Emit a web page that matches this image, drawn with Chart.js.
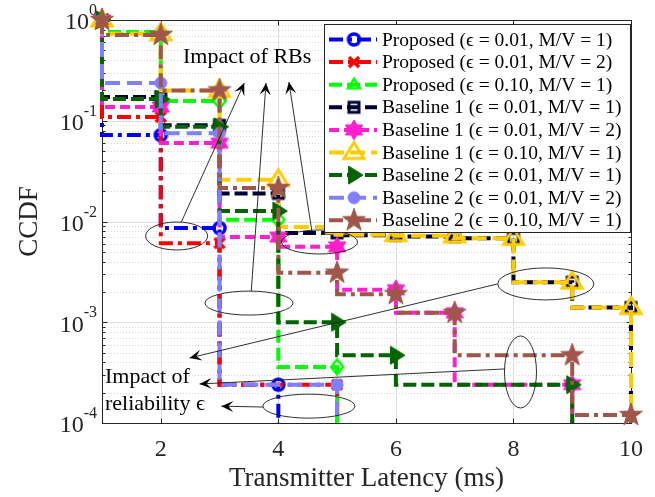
<!DOCTYPE html>
<html lang="en">
<head>
<meta charset="UTF-8">
<title>CCDF of transmitter latency</title>
<script src="https://cdn.jsdelivr.net/npm/chart.js@4"></script>
<style>
    html, body { margin: 0; padding: 0; background: #fff; }
    #wrap { width: 655px; height: 497px; }
</style>
</head>
<body>
<div id="wrap"><canvas id="ccdfChart" width="655" height="497"></canvas></div>
<script>
// latency axis (ms)
const latency = [1, 2, 3, 4, 5, 6, 7, 8, 9, 10];
const xTicks = [2, 4, 6, 8, 10];
const yDecades = [1, 0.1, 0.01, 0.001, 0.0001];

// CCDF read at each latency. null = no sample there, 0 = CCDF hit zero (line drops to the axis floor)
const proposedE001M1 = [1, 0.072, 0.0086, 2.4e-4, 0];
const proposedE001M2 = [1, 0.109, 0.0061, null, 2.4e-4, 0];
const proposedE010M1 = [1, 0.76, 0.157, 0.0104, 3.6e-4, 0];
const base1E001M1 = [1, 0.172, 0.09, 0.019, 0.0077, 0.0073, 0.0071, 0.0068, 0.0025, 0.0014, 0];
const base1E001M2 = [1, 0.137, 0.06, 0.0070, 0.0056, 0.0021, 0.00124, null, 2.4e-4, 0];
const base1E010M1 = [1, 0.73, 0.2, 0.026, 0.0088, 0.0074, 0.0072, 0.0068, 0.0025, 0.0014, 0];
const base2E001M1 = [1, 0.164, 0.087, 0.0127, 0.001, 4.7e-4, null, null, 2.4e-4, 0];
const base2E001M2 = [1, 0.237, 0.075, null, 2.4e-4, 0];
const base2E010M1 = [1, 0.71, 0.2, 0.0215, 0.0031, 0.0019, 0.00124, null, 4.7e-4, 1.2e-4, 0];

const seriesLabels = [
    'Proposed (\u03f5 = 0.01, M/V = 1)',
    'Proposed (\u03f5 = 0.01, M/V = 2)',
    'Proposed (\u03f5 = 0.10, M/V = 1)',
    'Baseline 1 (\u03f5 = 0.01, M/V = 1)',
    'Baseline 1 (\u03f5 = 0.01, M/V = 2)',
    'Baseline 1 (\u03f5 = 0.10, M/V = 1)',
    'Baseline 2 (\u03f5 = 0.01, M/V = 1)',
    'Baseline 2 (\u03f5 = 0.01, M/V = 2)',
    'Baseline 2 (\u03f5 = 0.10, M/V = 1)'
];
const seriesValues = [proposedE001M1, proposedE001M2, proposedE010M1, base1E001M1, base1E001M2,
    base1E010M1, base2E001M1, base2E001M2, base2E010M1];

const Y_MIN = 1e-4;
const FONT = '"Liberation Serif", "Times New Roman", serif';
const AXIS_COLOR = '#262626';

const DASH = [13, 5];
const DASHDOT = [14, 5, 4, 5];

// marker images (matlab style symbols)
function marker(shape, color, r, hollow, lw) {
    const s = Math.ceil(r * 2 + 6);
    const c = document.createElement('canvas');
    c.width = c.height = s;
    const g = c.getContext('2d');
    g.translate(s / 2, s / 2);
    g.strokeStyle = color;
    g.fillStyle = color;
    g.lineWidth = lw || 2.5;
    g.lineJoin = 'miter';
    g.beginPath();
    if (shape === 'circle') {
        g.arc(0, 0, r, 0, Math.PI * 2);
    } else if (shape === 'square') {
        g.rect(-r, -r, 2 * r, 2 * r);
    } else if (shape === 'diamond') {
        g.moveTo(0, -r); g.lineTo(r * 0.8, 0); g.lineTo(0, r); g.lineTo(-r * 0.8, 0); g.closePath();
    } else if (shape === 'up') {
        g.moveTo(0, -r); g.lineTo(r, r * 0.6); g.lineTo(-r, r * 0.6); g.closePath();
    } else if (shape === 'right') {
        g.moveTo(r, 0); g.lineTo(-r * 0.6, -r); g.lineTo(-r * 0.6, r); g.closePath();
    } else if (shape === 'cross') {
        g.moveTo(-r, -r); g.lineTo(r, r); g.moveTo(r, -r); g.lineTo(-r, r);
        g.stroke();
        return c;
    } else if (shape === 'star5' || shape === 'star6') {
        const n = shape === 'star5' ? 5 : 6;
        const inner = shape === 'star5' ? r * 0.4 : r * 0.58;
        for (let i = 0; i < n * 2; i++) {
            const rr = i % 2 === 0 ? r : inner;
            const a = -Math.PI / 2 + i * Math.PI / n;
            g.lineTo(rr * Math.cos(a), rr * Math.sin(a));
        }
        g.closePath();
    }
    if (!hollow) g.fill();
    g.stroke();
    return c;
}

const seriesStyle = [
    { color: '#0000ff', dash: DASHDOT, m: marker('circle', '#0000ff', 5.5, true, 3.5) },
    { color: '#ff0000', dash: DASHDOT, m: marker('cross', '#ff0000', 5, false, 3.5) },
    { color: '#00ff00', dash: DASH, m: marker('diamond', '#00ff00', 7.5, true, 2.5),
      legend: marker('up', '#00ff00', 6, true, 2.5) },
    { color: '#000033', dash: DASH, m: marker('square', '#000033', 5, true, 3) },
    { color: '#ff1fcf', dash: [10, 5], m: marker('star6', '#ff1fcf', 10, false, 1) },
    { color: '#ffcc00', dash: [15, 6], m: marker('up', '#ffcc00', 10, true, 3) },
    { color: '#006400', dash: DASH, m: marker('right', '#006400', 9, false, 1) },
    { color: '#8080ff', dash: [15, 7], m: marker('circle', '#8080ff', 6, false, 1) },
    { color: '#a0574a', dash: DASHDOT, m: marker('star5', '#a0574a', 12, false, 1) }
];

function toPoints(vals) {
    const pts = [];
    for (let i = 0; i < vals.length; i++) {
        const v = vals[i];
        if (v === null) continue;
        if (v === 0) {
            pts.push({ x: pts[pts.length - 1].x, y: Y_MIN, end: true });
            break;
        }
        pts.push({ x: latency[i], y: v });
    }
    return pts;
}

const datasets = seriesValues.map((vals, i) => ({
    label: seriesLabels[i],
    data: toPoints(vals),
    borderColor: seriesStyle[i].color,
    backgroundColor: seriesStyle[i].color,
    borderWidth: 4,
    borderDash: seriesStyle[i].dash,
    borderCapStyle: 'butt',
    stepped: 'after',
    pointStyle: seriesStyle[i].m,
    legendMarker: seriesStyle[i].legend || seriesStyle[i].m,
    pointRadius: c => (c.raw && c.raw.end ? 0 : 6),
    clip: false,
    order: -i
}));

// annotations, in data coordinates (latency, CCDF); radii in px
const ellipses = [
    [2.27, 0.00718, 31, 14],
    [3.50, 0.00155, 44, 12],
    [4.70, 0.00626, 38, 12],
    [8.55, 0.0024, 48, 16],
    [8.12, 3.21e-4, 16, 36],
    [4.52, 1.47e-4, 46, 12]
];
const arrows = [
    [2.35, 0.00989, 3.42, 0.237],
    [3.54, 0.00204, 3.79, 0.237],
    [4.57, 0.00805, 4.18, 0.2425],
    [7.73, 0.0024, 2.49, 4.42e-4],
    [7.85, 3.44e-4, 2.66, 2.44e-4],
    [3.74, 1.44e-4, 3.03, 1.47e-4]
];

const axesPlugin = {
    id: 'matlabAxes',
    beforeDatasetsDraw(chart) {
        const { ctx, chartArea: a, scales: { x, y } } = chart;
        ctx.save();
        const hline = (py, x1, x2) => { ctx.beginPath(); ctx.moveTo(x1, py); ctx.lineTo(x2, py); ctx.stroke(); };
        const vline = (px, y1, y2) => { ctx.beginPath(); ctx.moveTo(px, y1); ctx.lineTo(px, y2); ctx.stroke(); };
        ctx.lineWidth = 1;
        // minor grid
        ctx.strokeStyle = '#d8d8d8';
        ctx.setLineDash([1, 2]);
        for (let e = -4; e < 0; e++) {
            for (let k = 2; k <= 9; k++) {
                hline(Math.round(y.getPixelForValue(k * Math.pow(10, e))) + 0.5, a.left, a.right);
            }
        }
        // major grid
        ctx.setLineDash([]);
        ctx.strokeStyle = '#dedede';
        yDecades.forEach(v => hline(Math.round(y.getPixelForValue(v)) + 0.5, a.left, a.right));
        xTicks.forEach(v => vline(Math.round(x.getPixelForValue(v)) + 0.5, a.top, a.bottom));
        // box and tick marks
        ctx.strokeStyle = AXIS_COLOR;
        const L = Math.round(a.left) + 0.5, R = Math.round(a.right) + 0.5;
        const T = Math.round(a.top) + 0.5, B = Math.round(a.bottom) + 0.5;
        ctx.strokeRect(L, T, R - L, B - T);
        xTicks.forEach(v => {
            const px = Math.round(x.getPixelForValue(v)) + 0.5;
            vline(px, B, B - 5); vline(px, T, T + 5);
        });
        for (let e = -4; e <= 0; e++) {
            for (let k = 1; k <= 9; k++) {
                if (e === 0 && k > 1) break;
                const py = Math.round(y.getPixelForValue(k * Math.pow(10, e))) + 0.5;
                const len = k === 1 ? 5 : 3;
                hline(py, L, L + len); hline(py, R, R - len);
            }
        }
        // y tick labels 10^n
        ctx.fillStyle = AXIS_COLOR;
        ctx.textAlign = 'right';
        ctx.textBaseline = 'middle';
        yDecades.forEach(v => {
            const py = y.getPixelForValue(v);
            const exp = String(Math.round(Math.log10(v)));
            ctx.font = '16px ' + FONT;
            const sw = ctx.measureText(exp).width;
            const right = a.left - 5;
            ctx.fillText(exp, right, py - 9);
            ctx.font = '24px ' + FONT;
            ctx.fillText('10', right - sw, py + 3);
        });
        ctx.restore();
    },
    afterDatasetsDraw(chart) {
        const { ctx, chartArea: a, scales: { x, y } } = chart;
        ctx.save();
        // ellipses and arrows
        ctx.strokeStyle = '#1a1a1a';
        ctx.fillStyle = '#000';
        ctx.lineWidth = 0.9;
        ellipses.forEach(([ex, ey, rx, ry]) => {
            ctx.beginPath();
            ctx.ellipse(x.getPixelForValue(ex), y.getPixelForValue(ey), rx, ry, 0, 0, Math.PI * 2);
            ctx.stroke();
        });
        arrows.forEach(([x1, y1, x2, y2]) => {
            const p1 = [x.getPixelForValue(x1), y.getPixelForValue(y1)];
            const p2 = [x.getPixelForValue(x2), y.getPixelForValue(y2)];
            ctx.beginPath(); ctx.moveTo(p1[0], p1[1]); ctx.lineTo(p2[0], p2[1]); ctx.stroke();
            const ang = Math.atan2(p2[1] - p1[1], p2[0] - p1[0]);
            ctx.save();
            ctx.translate(p2[0], p2[1]);
            ctx.rotate(ang);
            ctx.beginPath();
            ctx.moveTo(0, 0); ctx.lineTo(-12, -5.5); ctx.lineTo(-7, 0); ctx.lineTo(-12, 5.5);
            ctx.closePath();
            ctx.fill();
            ctx.restore();
        });
        // annotation text
        ctx.fillStyle = '#000';
        ctx.font = '22px ' + FONT;
        ctx.textBaseline = 'alphabetic';
        ctx.textAlign = 'center';
        ctx.fillText('Impact of RBs', x.getPixelForValue(3.47), y.getPixelForValue(0.374));
        ctx.textAlign = 'left';
        ctx.fillText('Impact of', x.getPixelForValue(1.05), y.getPixelForValue(2.49e-4));
        ctx.fillText('reliability \u03f5', x.getPixelForValue(1.05), y.getPixelForValue(1.35e-4));

        // legend
        const lw = 306, lh = 208;
        const lx = Math.round(a.right) - lw - 1, ly = Math.round(a.top) + 4;
        ctx.fillStyle = '#fff';
        ctx.fillRect(lx, ly, lw, lh);
        ctx.strokeStyle = AXIS_COLOR;
        ctx.lineWidth = 1;
        ctx.strokeRect(lx + 0.5, ly + 0.5, lw, lh);
        chart.data.datasets.forEach((ds, i) => {
            const ry = ly + 15.5 + i * 22.6;
            ctx.save();
            ctx.strokeStyle = ds.borderColor;
            ctx.lineWidth = ds.borderWidth;
            ctx.setLineDash(ds.borderDash);
            ctx.beginPath(); ctx.moveTo(lx + 5, ry); ctx.lineTo(lx + 53, ry); ctx.stroke();
            ctx.restore();
            const m = ds.legendMarker;
            ctx.drawImage(m, lx + 30 - m.width / 2, ry - m.height / 2);
            ctx.fillStyle = '#000';
            ctx.font = '19.5px ' + FONT;
            ctx.textAlign = 'left';
            ctx.textBaseline = 'middle';
            ctx.fillText(ds.label, lx + 58, ry + 1);
        });
        ctx.restore();
    }
};

const ccdfChart = new Chart(document.getElementById('ccdfChart'), {
    type: 'line',
    data: { datasets: datasets },
    options: {
        responsive: false,
        animation: false,
        events: [],
        layout: { padding: { left: 0, right: 21, top: 20, bottom: 0 } },
        scales: {
            x: {
                type: 'linear',
                min: 1,
                max: 10,
                grid: { display: false, drawTicks: false },
                border: { display: false },
                afterBuildTicks: s => { s.ticks = xTicks.map(v => ({ value: v })); },
                afterFit: s => { s.height = 74; },
                ticks: {
                    maxRotation: 0,
                    autoSkip: false,
                    padding: 12,
                    color: AXIS_COLOR,
                    font: { family: FONT, size: 24 }
                },
                title: {
                    display: true,
                    text: 'Transmitter Latency (ms)',
                    color: AXIS_COLOR,
                    font: { family: FONT, size: 27 },
                    padding: { top: 0, bottom: 2 }
                }
            },
            y: {
                type: 'logarithmic',
                min: Y_MIN,
                max: 1,
                grid: { display: false, drawTicks: false },
                border: { display: false },
                ticks: { display: false },
                afterFit: s => { s.width = 102; },
                title: {
                    display: true,
                    text: 'CCDF',
                    color: AXIS_COLOR,
                    font: { family: FONT, size: 27 },
                    padding: { top: 14, bottom: 0 }
                }
            }
        },
        plugins: {
            legend: { display: false },
            tooltip: { enabled: false }
        }
    },
    plugins: [axesPlugin]
});
</script>
</body>
</html>
